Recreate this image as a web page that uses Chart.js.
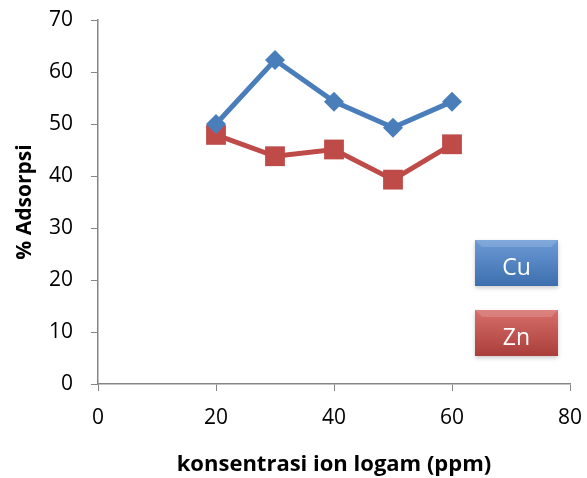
<!DOCTYPE html>
<html>
<head>
<meta charset="utf-8">
<script src="https://cdn.jsdelivr.net/npm/chart.js@4/dist/chart.umd.min.js"></script>
<style>
  html, body { margin: 0; padding: 0; background: #fff; }
  #wrap { width: 587px; height: 478px; }
</style>
</head>
<body>
<div id="wrap"><canvas id="chart" width="587" height="478"></canvas></div>
<script>
// data
const konsentrasi = [20, 30, 40, 50, 60];
const adsorpsiCu = [50, 62.3, 54.3, 49.3, 54.3];
const adsorpsiZn = [47.9, 43.8, 45.1, 39.3, 46.1];
const seriesNames = ['Cu', 'Zn'];

const toPoints = (xs, ys) => xs.map((x, i) => ({ x: x, y: ys[i] }));
const FONT = 'Open Sans';

// legend boxes drawn like the office-style shaded buttons
const boxLegend = {
  id: 'boxLegend',
  afterDraw(chart) {
    const ctx = chart.ctx;
    const items = [
      { label: seriesNames[0], top: '#6b9ad6', bot: '#3d6fae', y: 240 },
      { label: seriesNames[1], top: '#d86e6a', bot: '#a93e3b', y: 310 }
    ];
    items.forEach(it => {
      const x = 475, w = 83, h = 46;
      ctx.save();
      ctx.shadowColor = 'rgba(0,0,0,0.2)';
      ctx.shadowBlur = 4;
      ctx.shadowOffsetY = 2;
      const g = ctx.createLinearGradient(0, it.y, 0, it.y + h);
      g.addColorStop(0, it.top);
      g.addColorStop(1, it.bot);
      ctx.fillStyle = g;
      ctx.fillRect(x, it.y, w, h);
      ctx.restore();
      // bevel on top edge
      ctx.save();
      ctx.fillStyle = 'rgba(255,255,255,0.15)';
      ctx.beginPath();
      ctx.moveTo(x, it.y);
      ctx.lineTo(x + w, it.y);
      ctx.lineTo(x + w - 7, it.y + 7);
      ctx.lineTo(x + 7, it.y + 7);
      ctx.closePath();
      ctx.fill();
      ctx.fillStyle = '#fff';
      ctx.font = '23px "' + FONT + '", sans-serif';
      ctx.textAlign = 'center';
      ctx.textBaseline = 'middle';
      ctx.fillText(it.label, x + w / 2, it.y + h / 2 + 5);
      ctx.restore();
    });
  }
};

new Chart(document.getElementById('chart').getContext('2d'), {
  type: 'scatter',
  data: {
    datasets: [{
      label: seriesNames[0],
      data: toPoints(konsentrasi, adsorpsiCu),
      showLine: true,
      borderColor: '#4a7ebb',
      backgroundColor: '#4a7ebb',
      borderWidth: 5,
      pointStyle: 'rectRot',
      pointRadius: 10,
      pointHoverRadius: 10,
      pointBorderWidth: 0
    }, {
      label: seriesNames[1],
      data: toPoints(konsentrasi, adsorpsiZn),
      showLine: true,
      borderColor: '#be4b48',
      backgroundColor: '#be4b48',
      borderWidth: 5,
      pointStyle: 'rect',
      pointRadius: 14,
      pointHoverRadius: 14,
      pointBorderWidth: 0
    }]
  },
  options: {
    responsive: false,
    animation: false,
    layout: { padding: 0 },
    plugins: {
      legend: { display: false },
      tooltip: { enabled: false }
    },
    scales: {
      x: {
        type: 'linear',
        min: 0, max: 80,
        afterFit: s => { s.height = 94; s.paddingRight = 17; },
        ticks: { stepSize: 20, color: '#000', font: { family: FONT, size: 21 }, padding: 14 },
        grid: { drawOnChartArea: false, tickLength: 7, color: '#868686' },
        border: { color: '#868686', width: 1.5 },
        title: { display: true, text: 'konsentrasi ion logam (ppm)', color: '#000',
                 font: { family: FONT, size: 22, weight: 'bold' }, padding: { top: 0, bottom: 0 } }
      },
      y: {
        min: 0, max: 70,
        afterFit: s => { s.width = 98; s.paddingTop = 20; },
        ticks: { stepSize: 10, color: '#000', font: { family: FONT, size: 21 }, padding: 18 },
        grid: { drawOnChartArea: false, tickLength: 7, color: '#868686' },
        border: { color: '#868686', width: 1.5 },
        title: { display: true, text: '% Adsorpsi', color: '#000',
                 font: { family: FONT, size: 21, weight: 'bold' }, padding: { top: 12, bottom: 0 } }
      }
    }
  },
  plugins: [boxLegend]
});
</script>
</body>
</html>
